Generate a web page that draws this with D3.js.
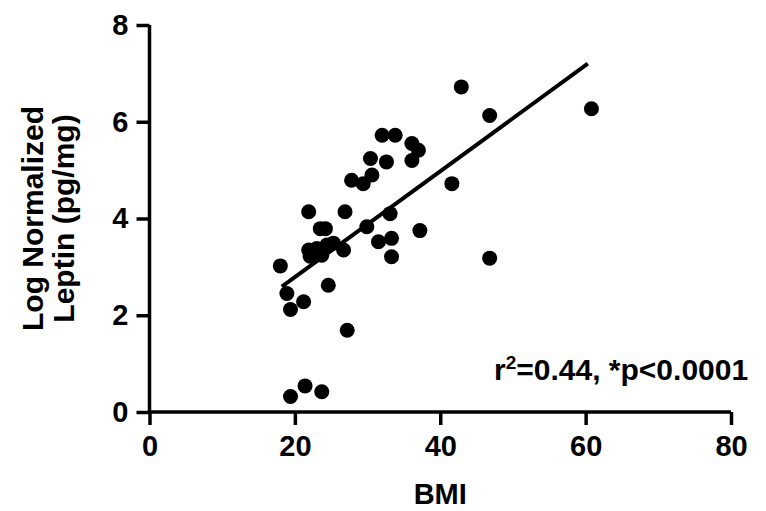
<!DOCTYPE html>
<html>
<head>
<meta charset="utf-8">
<script src="https://cdn.jsdelivr.net/npm/d3@7"></script>
<style>
  body { margin: 0; background: #fff; }
  text { font-family: "Liberation Sans", Arial, sans-serif; font-weight: bold; fill: #000; }
</style>
</head>
<body>
<script>
// data
const bmi = [18.0, 18.9, 19.4, 21.2, 19.4, 21.4, 23.7, 24.6, 27.2, 21.9,
  26.9, 23.5, 24.2, 29.9, 33.1, 21.9, 23.0, 24.4, 25.3, 22.1,
  23.7, 26.7, 31.5, 33.3, 33.3, 37.2, 41.6, 46.8, 46.8, 42.9,
  60.8, 32.0, 33.8, 36.1, 37.0, 36.1, 30.4, 32.6, 27.8, 29.4, 30.6];
const leptin = [3.02, 2.45, 2.12, 2.28, 0.32, 0.54, 0.42, 2.62, 1.69, 4.14,
  4.14, 3.79, 3.79, 3.83, 4.10, 3.35, 3.38, 3.45, 3.49, 3.22,
  3.24, 3.35, 3.52, 3.59, 3.21, 3.75, 4.72, 3.18, 6.13, 6.72,
  6.27, 5.72, 5.72, 5.55, 5.41, 5.20, 5.24, 5.17, 4.79, 4.72, 4.90];
// fitted line, as drawn
const fitX = [18.2, 60.3];
const fitSlope = 0.1095;
const fitIntercept = 0.597;
const xTicks = [0, 20, 40, 60, 80];
const yTicks = [0, 2, 4, 6, 8];

const W = 766, H = 511;
const svg = d3.select("body").append("svg").attr("width", W).attr("height", H);

const x = d3.scaleLinear().domain([0, 80]).range([149.5, 731]);
const y = d3.scaleLinear().domain([0, 8]).range([412, 25]);

//axes
const xAxis = svg.append("g")
  .attr("transform", `translate(0,${y(0)})`)
  .call(d3.axisBottom(x).tickValues(xTicks).tickSize(13).tickSizeOuter(0).tickPadding(10));
const yAxis = svg.append("g")
  .attr("transform", `translate(${x(0)},0)`)
  .call(d3.axisLeft(y).tickValues(yTicks).tickSize(13).tickSizeOuter(0).tickPadding(8));

[xAxis, yAxis].forEach(function (g) {
  g.selectAll("path, line").attr("stroke", "#000").attr("stroke-width", 3.5);
  g.selectAll("text").style("font-size", "29px");
  g.attr("font-family", null).attr("font-size", null);
});
xAxis.select(".domain").attr("d", `M${x(0)},0H${x(80)}`);
yAxis.select(".domain").attr("d", `M0,${y(0)}V${y(8)}`);

//regression line
svg.append("line")
  .attr("x1", x(fitX[0]))
  .attr("y1", y(fitIntercept + fitSlope * fitX[0]))
  .attr("x2", x(fitX[1]))
  .attr("y2", y(fitIntercept + fitSlope * fitX[1]))
  .attr("stroke", "#000")
  .attr("stroke-width", 4);

//dots
svg.append("g")
  .selectAll("circle")
  .data(bmi.map((b, i) => ({ bmi: b, leptin: leptin[i] })))
  .enter()
  .append("circle")
  .attr("cx", (d) => x(d.bmi))
  .attr("cy", (d) => y(d.leptin))
  .attr("r", 7.5)
  .attr("fill", "#000");

//labels
svg.append("text")
  .attr("x", (x(0) + x(80)) / 2)
  .attr("y", 504)
  .attr("text-anchor", "middle")
  .style("font-size", "29px")
  .text("BMI");

const yl = svg.append("text")
  .attr("transform", `translate(43,${(y(0) + y(8)) / 2}) rotate(-90)`)
  .attr("text-anchor", "middle")
  .style("font-size", "30px");
yl.append("tspan").attr("x", 0).attr("y", 0).text("Log Normalized");
yl.append("tspan").attr("x", 0).attr("y", 31).text("Leptin (pg/mg)");

const ann = svg.append("text")
  .attr("x", 494)
  .attr("y", 380)
  .style("font-size", "30px");
ann.append("tspan").text("r");
ann.append("tspan").attr("dy", -11).style("font-size", "19px").text("2");
ann.append("tspan").attr("dy", 11).text("=0.44, *p<0.0001");
</script>
</body>
</html>
